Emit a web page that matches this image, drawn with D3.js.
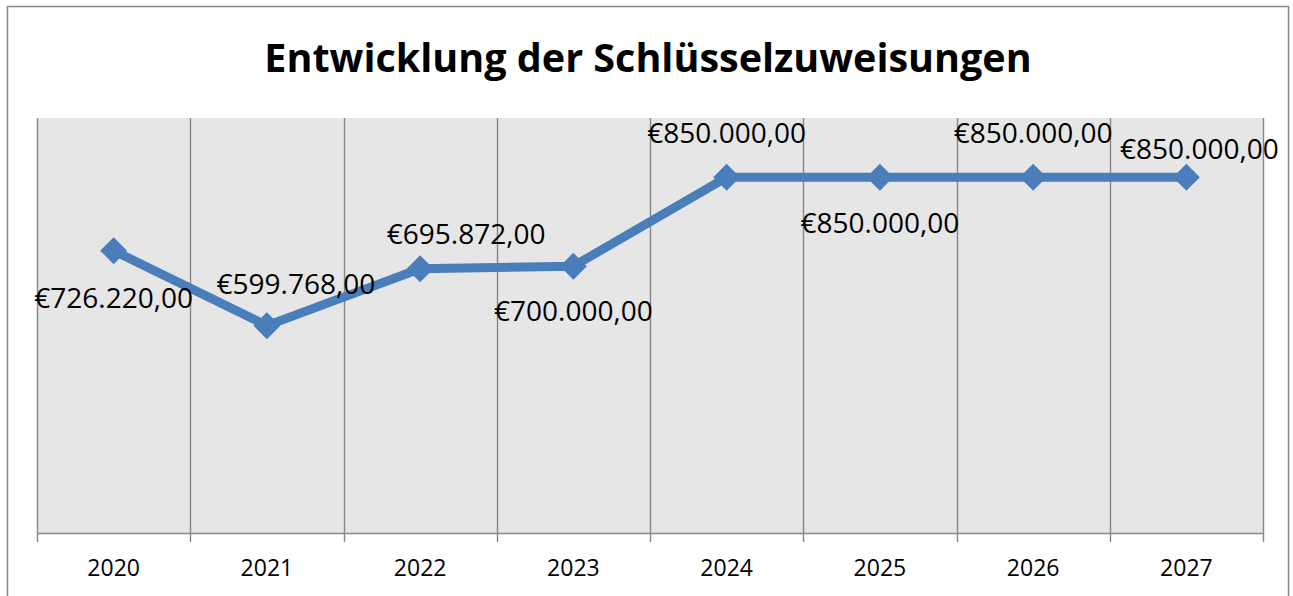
<!DOCTYPE html>
<html><head><meta charset="utf-8">
<script src="https://cdn.jsdelivr.net/npm/d3@7"></script>
<style>html,body{margin:0;padding:0;background:#fff;}svg{display:block;}</style>
</head><body>
<svg id="chart" width="1293" height="596"></svg>
<script>
const title = "Entwicklung der Schlüsselzuweisungen";
const years = ["2020","2021","2022","2023","2024","2025","2026","2027"];
const values = [726220, 599768, 695872, 700000, 850000, 850000, 850000, 850000];
const valueLabels = ["€726.220,00","€599.768,00","€695.872,00","€700.000,00","€850.000,00","€850.000,00","€850.000,00","€850.000,00"];
const yDomain = [250000, 950000];

// label placement (offsets from point, in px)
const labelOffsets = [[0,57],[29,-32],[46,-25],[0,55],[0,-34],[0,56],[0,-34],[13,-18]];

const svg = d3.select("#chart");
const plot = {left:37, right:1263, top:118, bottom:533};
const font = "'Open Sans', 'Noto Sans', sans-serif";
const lineColor = "#4a7ebb";
const gridColor = "#878787";

// outer border
svg.append("rect").attr("x",7.5).attr("y",6.5).attr("width",1281).attr("height",600)
  .attr("fill","#fff").attr("stroke","#888").attr("stroke-width",1.5);

const x = d3.scaleBand().domain(years).range([plot.left, plot.right]).padding(0);
const y = d3.scaleLinear().domain(yDomain).range([plot.bottom, plot.top]);

// plot background
svg.append("rect").attr("x",plot.left).attr("y",plot.top)
  .attr("width",plot.right-plot.left).attr("height",plot.bottom-plot.top).attr("fill","#e6e6e6");

// vertical gridlines at category boundaries
const bounds = years.map(d => x(d)).concat([x(years[years.length-1]) + x.bandwidth()]);
svg.append("g").selectAll("line").data(bounds).join("line")
  .attr("x1",d=>Math.round(d)+0.5).attr("x2",d=>Math.round(d)+0.5)
  .attr("y1",plot.top).attr("y2",plot.bottom)
  .attr("stroke",gridColor).attr("stroke-width",1.4);

// x axis
const xAxis = d3.axisBottom(x).tickSize(0);
const gx = svg.append("g").attr("transform",`translate(0,${plot.bottom})`).call(xAxis);
gx.select(".domain").attr("stroke",gridColor).attr("stroke-width",1.6);
gx.selectAll("text").attr("y",43).attr("dy",0)
  .attr("font-family",font).attr("font-size",23).attr("fill","#000");
// tick marks at boundaries
svg.append("g").selectAll("line").data(bounds).join("line")
  .attr("x1",d=>Math.round(d)+0.5).attr("x2",d=>Math.round(d)+0.5)
  .attr("y1",plot.bottom).attr("y2",plot.bottom+9)
  .attr("stroke",gridColor).attr("stroke-width",1.4);

// line
const cx = d => x(d) + x.bandwidth()/2;
const line = d3.line().x((d,i)=>cx(years[i])).y(d=>y(d));
svg.append("path").datum(values).attr("d",line)
  .attr("fill","none").attr("stroke",lineColor).attr("stroke-width",9).attr("stroke-linejoin","round");

// diamond markers
const r = 13.5;
svg.append("g").selectAll("path").data(values).join("path")
  .attr("d",(d,i)=>{const px=cx(years[i]), py=y(d);
    return `M${px},${py-r}L${px+r},${py}L${px},${py+r}L${px-r},${py}Z`;})
  .attr("fill",lineColor);

// data labels
svg.append("g").selectAll("text").data(values).join("text")
  .attr("x",(d,i)=>cx(years[i])+labelOffsets[i][0])
  .attr("y",(d,i)=>y(d)+labelOffsets[i][1])
  .attr("text-anchor","middle")
  .attr("font-family",font).attr("font-size",28).attr("fill","#000")
  .text((d,i)=>valueLabels[i]);

// title
svg.append("text").attr("x",648).attr("y",72).attr("text-anchor","middle")
  .attr("font-family",font).attr("font-weight","bold").attr("font-size",39.5).attr("fill","#000")
  .text(title);
</script>
</body></html>
